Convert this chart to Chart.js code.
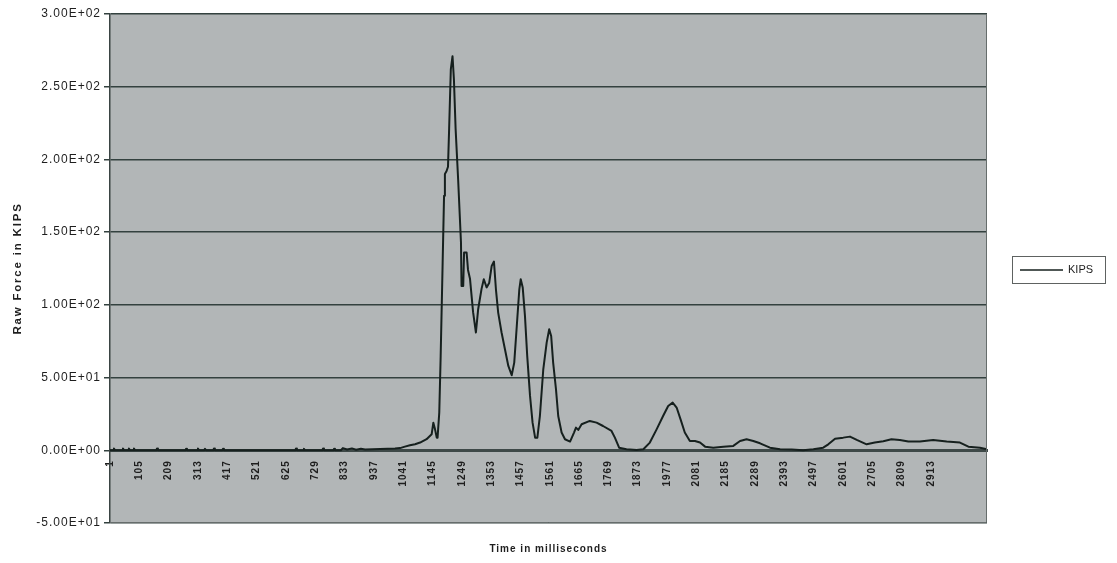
<!DOCTYPE html>
<html>
<head>
<meta charset="utf-8">
<title>Raw Force in KIPS</title>
<script src="https://cdn.jsdelivr.net/npm/chart.js@4.4.1/dist/chart.umd.min.js"></script>
<style>
  body{margin:0;background:#fff;}
  canvas{display:block;}
</style>
</head>
<body>
<canvas id="forceChart" width="1117" height="563"></canvas>
<script>
// time (ms) and force (kips)
const timeMs = [
  1,12,15,19,44,47,51,65,68,72,83,86,90,
  165,168,171,268,271,274,310,313,317,335,338,342,367,370,373,399,402,405,
  658,661,664,686,689,693,754,757,760,793,796,799,
  820,827,842,859,874,891,906,
  959,1012,1030,1047,1065,1083,1101,1124,1142,
  1148,1154,1160,1163,1169,1174,1181,1186,1189,1195,
  1200,1204,1210,1216,1221,1227,1236,1246,1248,1254,
  1257,1266,1271,1278,1289,1299,1307,1319,1327,1337,
  1346,1355,1363,1370,1378,1390,1402,1414,1426,1435,
  1444,1453,1458,1465,1473,1481,1491,1500,1509,1517,
  1526,1538,1550,1559,1566,1573,1583,1591,1603,1615,
  1633,1647,1654,1662,1674,1703,1727,1750,1780,1792,
  1807,1833,1869,1893,1916,1940,1963,1981,1997,2011,
  2025,2040,2058,2076,2094,2112,2141,2177,2212,2236,
  2259,2283,2307,2342,2378,2419,2460,2496,2531,2549,
  2573,2602,2626,2650,2685,2714,2744,2773,2803,2833,
  2874,2921,2969,3016,3046,3087,3112
];
const kips = [
  0,0,1.2,0,0,1.2,0,0,1.2,0,0,1.2,0,
  0,1.2,0,0,1,0,0,1.2,0,0,1,0,0,1.2,0,0,1,0,
  0,1.2,0,0,1,0,0,1.2,0,0,1,0,
  0,1.5,0.5,1.3,0.4,1,0.5,
  0.8,1.2,1.5,2.5,3.4,4.2,5.3,7.6,11,
  19,14.4,8.7,8.7,25.9,64.9,129,175,190,192,
  195,221,262,271,255,221,186,143,113,113,
  136,136,124,118,95,81,97,111,117.6,112,
  115,126.8,129.8,110.7,94.7,81,69.5,58,51.6,60.3,
  85.5,110.7,117.6,112,92.4,64.9,37.4,19,8.7,8.7,
  23.6,55.7,74,83.2,78.6,60.3,42,23.6,12.2,7.6,
  6,12.2,15.6,14,17.9,20.2,19,16.7,13.3,8.7,
  1.8,0.7,0.2,0.7,5.3,14.4,23.6,30.5,32.8,29.4,
  21.3,12.2,6.4,6.4,5.3,2.5,1.8,2.5,3,6.4,
  7.6,6.4,4.8,1.8,0.7,0.5,0,0.7,1.8,4.1,
  8,8.7,9.4,7.1,4.1,5.3,6.2,7.6,7.1,6,
  6,7.1,6,5.3,2.5,1.8,0.7
];
const xTickLabels = [1,105,209,313,417,521,625,729,833,937,1041,1145,1249,1353,1457,
  1561,1665,1769,1873,1977,2081,2185,2289,2393,2497,2601,2705,2809,2913];
const yTickValues = [-50,0,50,100,150,200,250,300];
const yTickLabels = ['-5.00E+01','0.00E+00','5.00E+01','1.00E+02','1.50E+02','2.00E+02','2.50E+02','3.00E+02'];
const seriesName = 'KIPS';
const xTitle = 'Time in milliseconds';
const yTitle = 'Raw Force in KIPS';

const PLOT_BG = '#b2b6b7';
const GRID = '#33413f';
const INK = '#1e1e1e';

Chart.defaults.font.family = '"Liberation Sans", Arial, sans-serif';

const excelLook = {
  id:'excelLook',
  beforeDraw(chart){
    const {ctx, chartArea:a} = chart;
    ctx.letterSpacing = '1px'; // scanned text runs wide
    ctx.save();
    ctx.fillStyle = '#fff';
    ctx.fillRect(0,0,chart.width,chart.height);
    ctx.fillStyle = PLOT_BG;
    ctx.fillRect(a.left,a.top,a.right-a.left,a.bottom-a.top);
    ctx.restore();
  },
  afterDraw(chart){
    const {ctx, chartArea:a} = chart;
    const ds = chart.data.datasets[0];
    ctx.save();
    // frame on right and bottom
    ctx.strokeStyle = '#666d6c';
    ctx.lineWidth = 1;
    ctx.beginPath();
    ctx.moveTo(a.left, a.bottom-0.5);
    ctx.lineTo(a.right-0.5, a.bottom-0.5);
    ctx.lineTo(a.right-0.5, a.top);
    ctx.stroke();

    // axis titles
    ctx.fillStyle = INK;
    ctx.textAlign = 'center';
    ctx.textBaseline = 'middle';
    ctx.font = 'bold 10px "Liberation Sans", Arial, sans-serif';
    ctx.letterSpacing = '1px';
    ctx.fillText(xTitle, (a.left+a.right)/2, a.bottom+26);
    ctx.save();
    ctx.translate(18, (a.top+a.bottom)/2);
    ctx.rotate(-Math.PI/2);
    ctx.font = 'bold 11.5px "Liberation Sans", Arial, sans-serif';
    ctx.letterSpacing = '1.8px';
    ctx.fillText(yTitle, 0, 0);
    ctx.restore();

    // legend box
    const lx = a.right+25, ly = Math.round((a.top+a.bottom)/2)-13;
    ctx.strokeStyle = '#5e6261';
    ctx.lineWidth = 1;
    ctx.strokeRect(lx+0.5, ly+0.5, 93, 27);
    ctx.strokeStyle = ds.borderColor;
    ctx.lineWidth = 1.5;
    ctx.beginPath();
    ctx.moveTo(lx+8, ly+14);
    ctx.lineTo(lx+51, ly+14);
    ctx.stroke();
    ctx.letterSpacing = '0px';
    ctx.font = '11px "Liberation Sans", Arial, sans-serif';
    ctx.textAlign = 'left';
    ctx.fillText(ds.label, lx+56, ly+14);
    ctx.restore();
  }
};

new Chart(document.getElementById('forceChart'),{
  type:'line',
  data:{
    datasets:[{
      label:seriesName,
      data:timeMs.map((t,i)=>({x:t, y:kips[i]})),
      borderColor:'#16201e',
      borderWidth:2,
      borderJoinStyle:'round',
      pointRadius:0,
      tension:0
    }]
  },
  options:{
    responsive:false,
    animation:false,
    devicePixelRatio:1,
    layout:{padding:{left:0, right:130, top:14, bottom:40}},
    plugins:{legend:{display:false}, tooltip:{enabled:false}},
    scales:{
      x:{
        type:'linear', min:1, max:3112,
        position:{y:0},
        afterBuildTicks:s=>{ s.ticks = xTickLabels.map(v=>({value:v})); },
        ticks:{autoSkip:false, minRotation:90, maxRotation:90, padding:10, color:INK,
          font:{size:10, weight:'bold'}, callback:v=>String(v)},
        grid:{display:false, drawTicks:false},
        border:{display:true, color:'#3e4948', width:3}
      },
      y:{
        min:-50, max:300,
        afterBuildTicks:s=>{ s.ticks = yTickValues.map(v=>({value:v})); },
        afterFit:s=>{ s.width = 110; },
        ticks:{padding:3, color:INK, font:{size:12},
          callback:v=>yTickLabels[yTickValues.indexOf(v)]},
        grid:{color:GRID, lineWidth:1.5, tickLength:6, tickColor:GRID},
        border:{color:'#3a4443', width:1.5}
      }
    }
  },
  plugins:[excelLook]
});
</script>
</body>
</html>
